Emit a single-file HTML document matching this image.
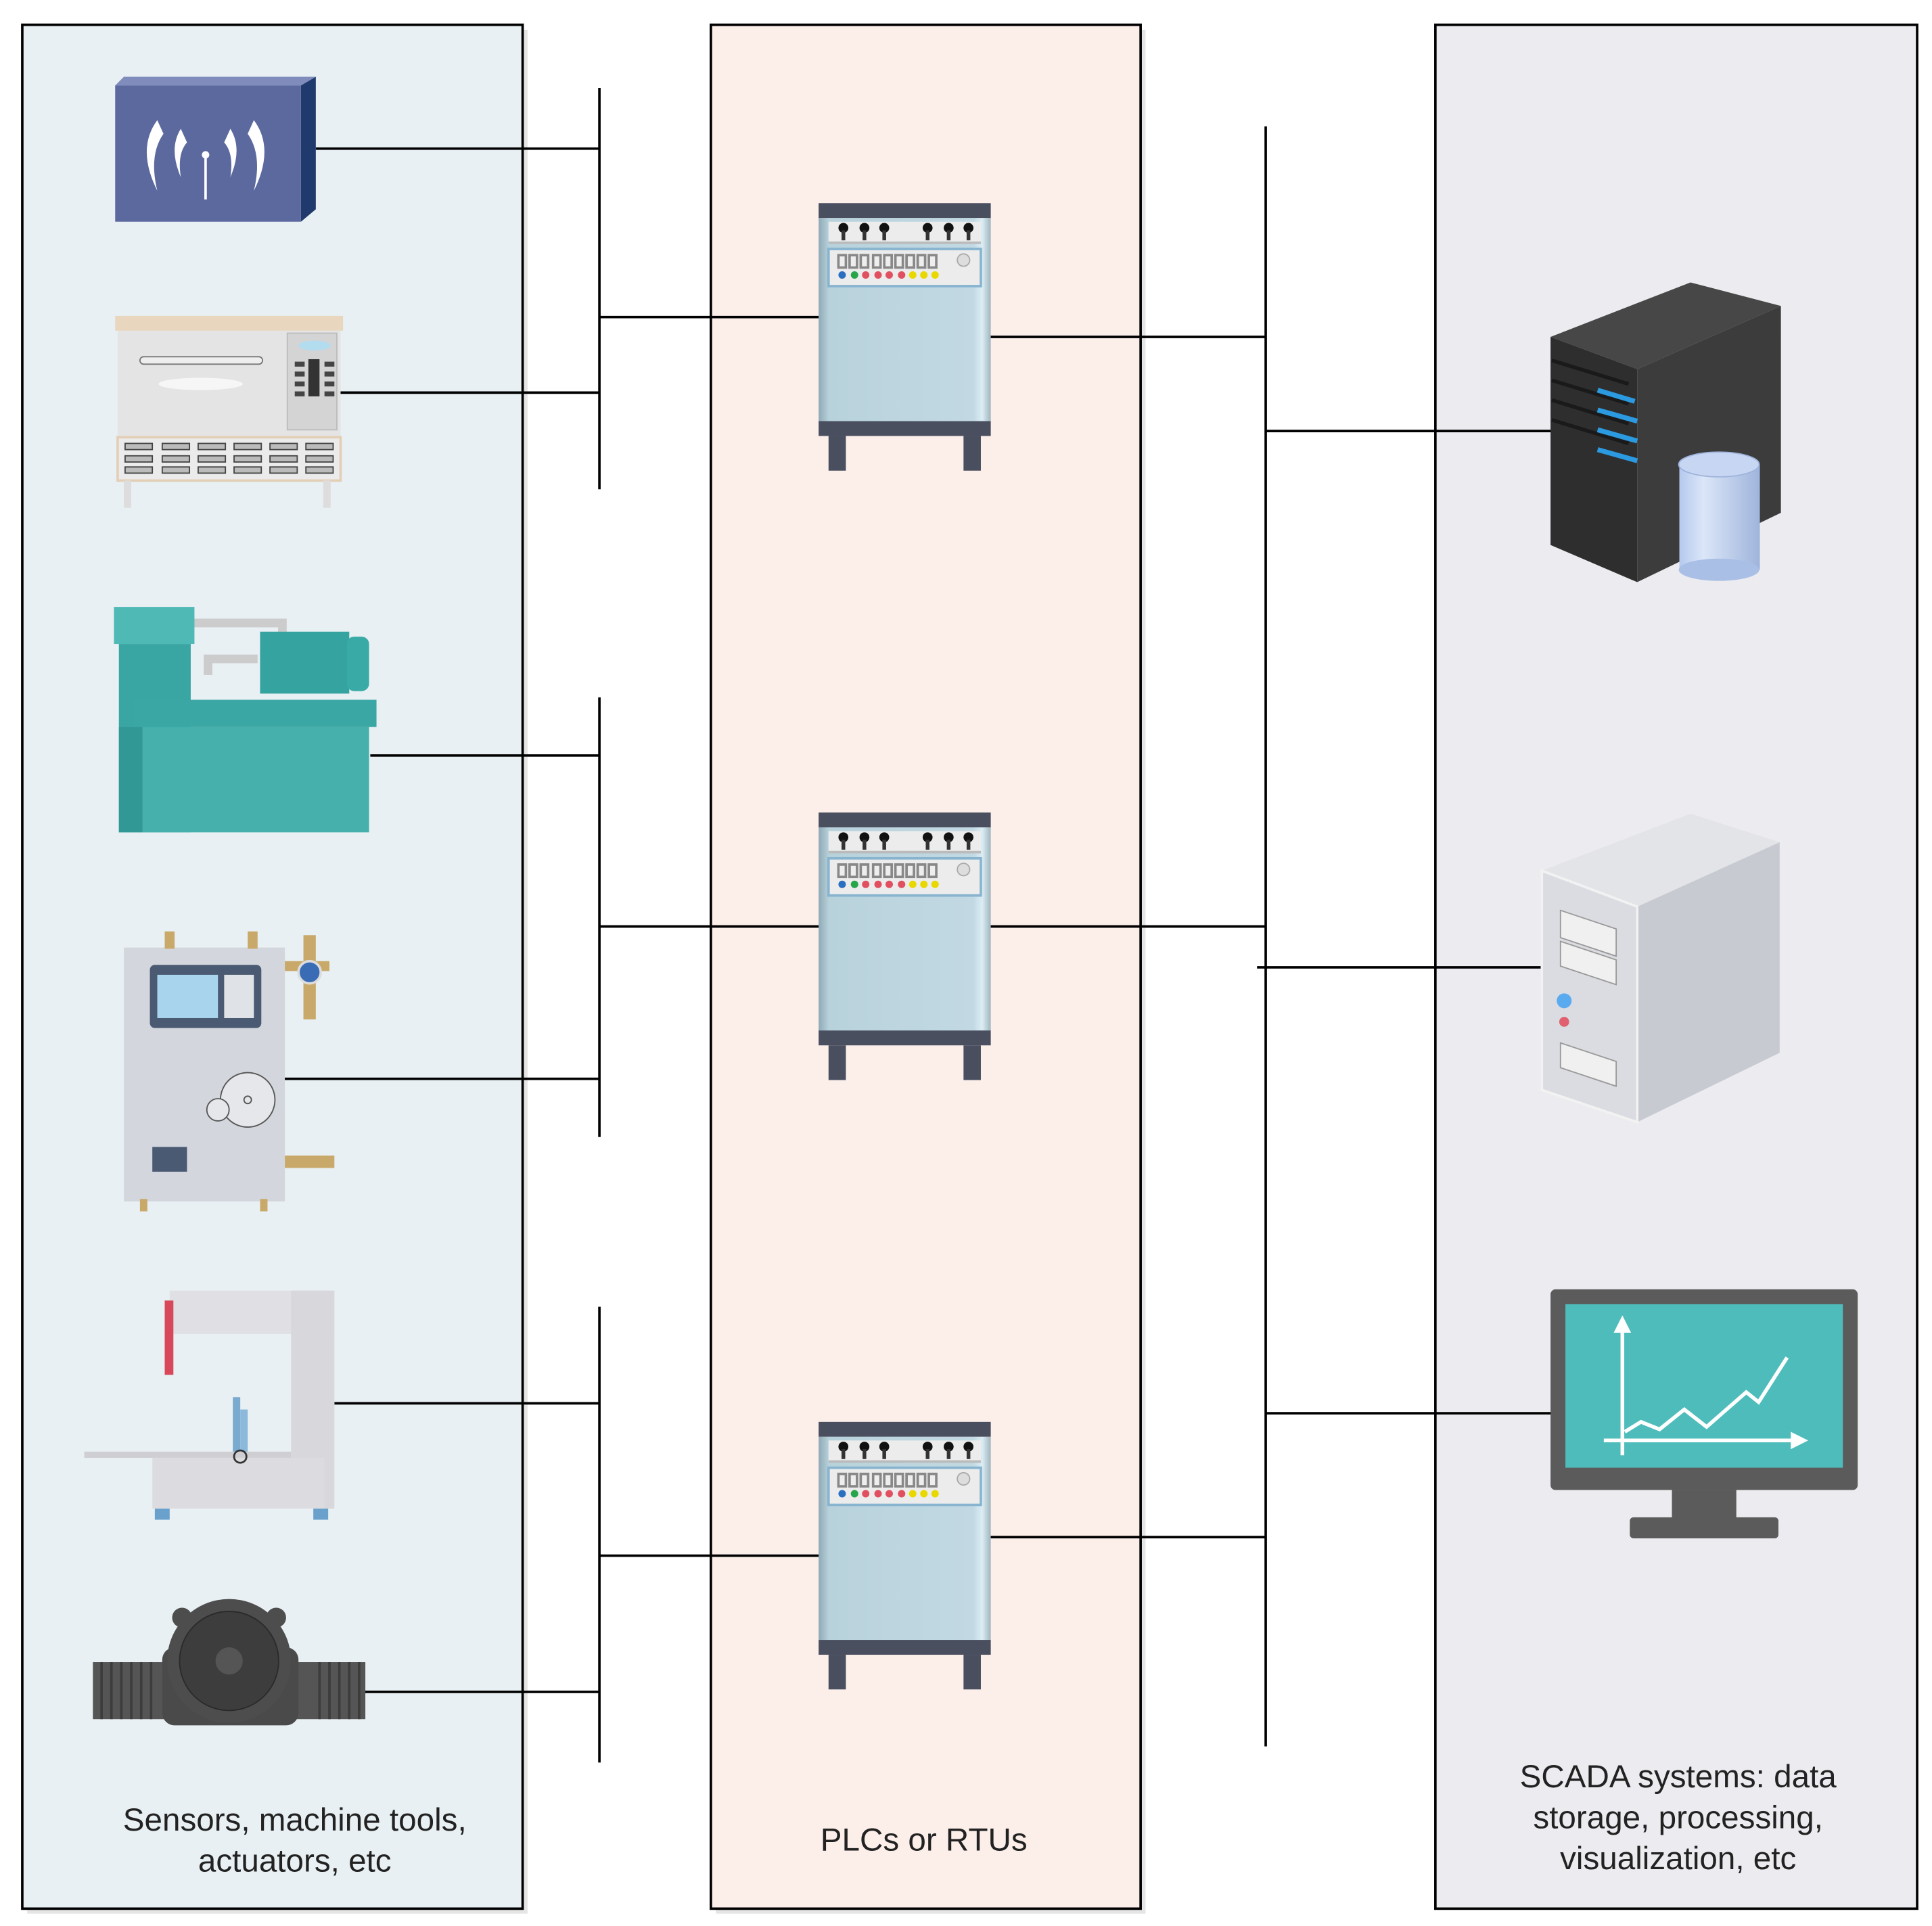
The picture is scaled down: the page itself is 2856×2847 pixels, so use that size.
<!DOCTYPE html>
<html><head><meta charset="utf-8"><style>
html,body{margin:0;padding:0;background:#fff;}
svg{display:block;}
text{font-family:"Liberation Sans",sans-serif;fill:#222;}
</style></head><body>
<svg width="2856" height="2847" viewBox="0 0 1560 1555" preserveAspectRatio="none" xmlns="http://www.w3.org/2000/svg">
<defs>
<linearGradient id="plcb" x1="0" x2="1"><stop offset="0" stop-color="#8fa9b5"/><stop offset="0.06" stop-color="#b8d2dc"/><stop offset="0.9" stop-color="#c2d9e3"/><stop offset="0.95" stop-color="#dcedf4"/><stop offset="1" stop-color="#9fb5bf"/></linearGradient>
<linearGradient id="cyl" x1="0" x2="1"><stop offset="0" stop-color="#b5c9ee"/><stop offset="0.3" stop-color="#dbe6f8"/><stop offset="1" stop-color="#9fb4dc"/></linearGradient>
<g id="plc">
<rect x="0" y="0" width="139" height="12" fill="#4a4f60"/>
<rect x="0" y="12" width="139" height="165" fill="url(#plcb)"/>
<rect x="8" y="15" width="123" height="16" fill="#ececec"/>
<rect x="8" y="31" width="123" height="2" fill="#bbb"/>
<g fill="#111"><circle cx="20" cy="20" r="4"/><circle cx="37" cy="20" r="4"/><circle cx="53" cy="20" r="4"/><circle cx="88" cy="20" r="4"/><circle cx="105" cy="20" r="4"/><circle cx="121" cy="20" r="4"/></g>
<g stroke="#333" stroke-width="3"><path d="M20 22v8M37 22v8M53 22v8M88 22v8M105 22v8M121 22v8"/></g>
<rect x="8" y="37" width="123" height="30" fill="#ececec" stroke="#88b4cf" stroke-width="2"/>
<g fill="#eee" stroke="#888" stroke-width="2"><rect x="16" y="42" width="6" height="10"/><rect x="25" y="42" width="6" height="10"/><rect x="34" y="42" width="6" height="10"/><rect x="44" y="42" width="6" height="10"/><rect x="53" y="42" width="6" height="10"/><rect x="62" y="42" width="6" height="10"/><rect x="71" y="42" width="6" height="10"/><rect x="80" y="42" width="6" height="10"/><rect x="89" y="42" width="6" height="10"/></g>
<circle cx="117" cy="46" r="5" fill="#ddd" stroke="#aaa"/>
<circle cx="19" cy="58" r="3" fill="#2a6fc0"/><circle cx="29" cy="58" r="3" fill="#27a54a"/><circle cx="38" cy="58" r="3" fill="#e05060"/><circle cx="48" cy="58" r="3" fill="#e05060"/><circle cx="57" cy="58" r="3" fill="#e05060"/><circle cx="67" cy="58" r="3" fill="#e05060"/><circle cx="76" cy="58" r="3" fill="#e8d800"/><circle cx="85" cy="58" r="3" fill="#e8d800"/><circle cx="94" cy="58" r="3" fill="#e8d800"/>
<rect x="0" y="176" width="139" height="12" fill="#4a4f60"/>
<rect x="8" y="188" width="14" height="28" fill="#4a4f60"/>
<rect x="117" y="188" width="14" height="28" fill="#4a4f60"/>
</g>
</defs>

<!-- panels -->
<rect x="22" y="24" width="404" height="1521" fill="#e5e5e5"/>
<rect x="18" y="20" width="404" height="1521" fill="#e8f0f3" stroke="#000" stroke-width="2"/>
<rect x="578" y="24" width="347" height="1521" fill="#e5e5e5"/>
<rect x="574" y="20" width="347" height="1521" fill="#fcefea" stroke="#000" stroke-width="2"/>
<rect x="1159" y="20" width="389" height="1521" fill="#ecebef" stroke="#000" stroke-width="2"/>

<!-- connectors -->
<g stroke="#000" stroke-width="2" fill="none">
<path d="M484 71V395M255 120H484M272 317H484M484 256H668"/>
<path d="M484 563V918M299 610H484M484 748H668M222 871H484"/>
<path d="M484 1055V1423M270 1133H484M484 1256H668M285 1366H484"/>
<path d="M1022 102V1410M792 272H1022M1022 348H1253M790 748H1022M1015 781H1246M1022 1141H1253M790 1241H1022"/>
</g>

<!-- PLCs -->
<use href="#plc" x="661" y="164"/>
<use href="#plc" x="661" y="656"/>
<use href="#plc" x="661" y="1148"/>

<!-- wireless -->
<polygon points="93,69 100,62 255,62 243,69" fill="#7f8cbc"/>
<polygon points="243,69 255,62 255,169 243,179" fill="#213a6e"/>
<rect x="93" y="69" width="150" height="110" fill="#5c699e"/>
<g fill="#fff">
<path d="M127 97 Q110 120 127 154 Q120 125 132 108Z"/>
<path d="M146 104 Q136 120 146 143 Q143 124 151 115Z"/>
<path d="M205 97 Q222 120 205 154 Q212 125 200 108Z"/>
<path d="M186 104 Q196 120 186 143 Q189 124 181 115Z"/>
<circle cx="166" cy="125" r="3"/><rect x="165" y="125" width="2" height="36"/>
</g>

<!-- oven -->
<rect x="93" y="255" width="184" height="12" fill="#e8d6be"/>
<rect x="95" y="267" width="180" height="86" fill="#e4e4e4"/>
<rect x="232" y="269" width="40" height="78" fill="#d4d4d4" stroke="#bbb"/>
<ellipse cx="254" cy="279" rx="13" ry="4" fill="#b3dcef"/>
<rect x="249" y="290" width="9" height="30" fill="#333"/>
<g fill="#444"><rect x="238" y="292" width="8" height="4"/><rect x="238" y="300" width="8" height="4"/><rect x="238" y="308" width="8" height="4"/><rect x="238" y="316" width="8" height="4"/><rect x="262" y="292" width="8" height="4"/><rect x="262" y="300" width="8" height="4"/><rect x="262" y="308" width="8" height="4"/><rect x="262" y="316" width="8" height="4"/></g>
<rect x="113" y="288" width="99" height="6" rx="3" fill="#eee" stroke="#777"/>
<ellipse cx="162" cy="310" rx="34" ry="5" fill="#f6f6f6"/>
<rect x="95" y="353" width="180" height="35" fill="#ebebeb" stroke="#e3cfb6" stroke-width="2"/>
<g fill="#bbb" stroke="#444" stroke-width="1">
<rect x="101" y="358" width="22" height="5"/><rect x="131" y="358" width="22" height="5"/><rect x="160" y="358" width="22" height="5"/><rect x="189" y="358" width="22" height="5"/><rect x="218" y="358" width="22" height="5"/><rect x="247" y="358" width="22" height="5"/>
<rect x="101" y="368" width="22" height="5"/><rect x="131" y="368" width="22" height="5"/><rect x="160" y="368" width="22" height="5"/><rect x="189" y="368" width="22" height="5"/><rect x="218" y="368" width="22" height="5"/><rect x="247" y="368" width="22" height="5"/>
<rect x="101" y="377" width="22" height="5"/><rect x="131" y="377" width="22" height="5"/><rect x="160" y="377" width="22" height="5"/><rect x="189" y="377" width="22" height="5"/><rect x="218" y="377" width="22" height="5"/><rect x="247" y="377" width="22" height="5"/>
</g>
<rect x="100" y="388" width="6" height="22" fill="#ddd"/><rect x="261" y="388" width="6" height="22" fill="#ddd"/>

<!-- teal machine -->
<path d="M150 503 H228 V512 M168 545 V532 H208" stroke="#ccc" stroke-width="7" fill="none"/>
<rect x="92" y="490" width="65" height="30" fill="#4fb9b5"/>
<rect x="96" y="520" width="58" height="152" fill="#3aa6a3"/>
<rect x="210" y="510" width="72" height="50" fill="#35a3a0"/>
<rect x="280" y="514" width="18" height="44" rx="6" fill="#3aaaa6"/>
<rect x="108" y="565" width="196" height="22" fill="#3ba7a4"/>
<rect x="115" y="587" width="183" height="85" fill="#46b0ad"/>
<rect x="96" y="587" width="19" height="85" fill="#329895"/>

<!-- boiler -->
<rect x="100" y="765" width="130" height="205" fill="#d3d7dd"/>
<rect x="121" y="779" width="90" height="51" rx="4" fill="#4a5a72"/>
<rect x="127" y="787" width="49" height="35" fill="#a8d4ee"/>
<rect x="181" y="787" width="24" height="35" fill="#dfe3e8"/>
<rect x="133" y="752" width="8" height="14" fill="#c9a96a"/><rect x="200" y="752" width="8" height="14" fill="#c9a96a"/>
<rect x="230" y="776" width="36" height="8" fill="#c9a96a"/>
<rect x="245" y="755" width="10" height="68" fill="#c9a96a"/>
<circle cx="250" cy="785" r="9" fill="#3a6cb5" stroke="#ddd" stroke-width="2"/>
<circle cx="200" cy="888" r="22" fill="#e5e7ea" stroke="#555"/>
<circle cx="176" cy="896" r="9" fill="#e5e7ea" stroke="#555"/>
<circle cx="200" cy="888" r="3" fill="none" stroke="#555"/>
<rect x="123" y="926" width="28" height="20" fill="#4a5a72"/>
<rect x="230" y="933" width="40" height="10" fill="#c9a96a"/>
<rect x="113" y="968" width="6" height="10" fill="#c9a96a"/><rect x="210" y="968" width="6" height="10" fill="#c9a96a"/>

<!-- band saw -->
<rect x="137" y="1042" width="133" height="35" fill="#e0e0e4"/>
<rect x="235" y="1042" width="35" height="176" fill="#d8d8dc"/>
<rect x="133" y="1050" width="7" height="60" fill="#d8485a"/>
<rect x="188" y="1128" width="6" height="46" fill="#7aaad0"/><rect x="194" y="1138" width="6" height="36" fill="#8cb8dc"/>
<rect x="68" y="1172" width="167" height="5" fill="#cfcfd3"/>
<rect x="123" y="1177" width="139" height="41" fill="#dcdce0"/>
<circle cx="194" cy="1176" r="5" fill="none" stroke="#333" stroke-width="1.5"/>
<rect x="125" y="1218" width="12" height="9" fill="#6aa0cc"/><rect x="253" y="1218" width="12" height="9" fill="#6aa0cc"/>

<!-- flow meter -->
<rect x="75" y="1342" width="220" height="46" fill="#555"/>
<g stroke="#3c3c3c" stroke-width="2"><path d="M82 1342v46M90 1342v46M98 1342v46M106 1342v46M114 1342v46M122 1342v46M258 1342v46M266 1342v46M274 1342v46M282 1342v46M290 1342v46"/></g>
<rect x="131" y="1330" width="110" height="63" rx="10" fill="#4a4a4a"/>
<circle cx="185" cy="1341" r="50" fill="#4d4d4d"/>
<circle cx="185" cy="1341" r="40" fill="#3d3d3d" stroke="#2a2a2a"/>
<circle cx="185" cy="1341" r="11" fill="#555"/>
<circle cx="147" cy="1306" r="8" fill="#4d4d4d"/><circle cx="223" cy="1306" r="8" fill="#4d4d4d"/>

<!-- dark server -->
<polygon points="1252,272 1365,228 1438,247 1322,298" fill="#474747"/>
<polygon points="1322,298 1438,247 1438,414 1322,470" fill="#3c3c3c"/>
<polygon points="1252,272 1322,298 1322,470 1252,440" fill="#2e2e2e"/>
<g stroke="#1a1a1a" stroke-width="3"><path d="M1253 291L1315 310M1253 307L1315 326M1253 323L1315 342M1253 339L1315 358"/></g>
<g stroke="#2b9ae0" stroke-width="4"><path d="M1290 315L1320 324M1290 331L1322 340M1290 347L1322 356M1290 363L1322 372"/></g>
<rect x="1356" y="375" width="65" height="85" fill="url(#cyl)"/>
<ellipse cx="1388" cy="460" rx="32.5" ry="9" fill="#a9bfe6"/>
<ellipse cx="1388" cy="375" rx="32.5" ry="10" fill="#c7d6f2" stroke="#9fb4dc"/>

<!-- pc tower -->
<polygon points="1245,703 1365,657 1437,680 1322,732" fill="#e3e4e8"/>
<polygon points="1322,732 1437,680 1437,850 1322,906" fill="#c8cad1"/>
<polygon points="1245,703 1322,732 1322,906 1245,880" fill="#dadce1" stroke="#f2f2f2" stroke-width="2"/>
<g fill="#f0f0f0" stroke="#999"><polygon points="1260,735 1305,750 1305,772 1260,757"/><polygon points="1260,760 1305,775 1305,795 1260,780"/><polygon points="1260,842 1305,857 1305,877 1260,862"/></g>
<ellipse cx="1263" cy="808" rx="6" ry="6" fill="#5aaaf0"/>
<ellipse cx="1263" cy="825" rx="4" ry="4" fill="#e06070"/>

<!-- monitor -->
<rect x="1252" y="1041" width="248" height="162" rx="4" fill="#5b5b5b"/>
<rect x="1264" y="1053" width="224" height="132" fill="#4fbcbc"/>
<rect x="1350" y="1203" width="52" height="24" fill="#5b5b5b"/>
<rect x="1316" y="1225" width="120" height="17" rx="3" fill="#5b5b5b"/>
<g stroke="#fff" stroke-width="3" fill="none">
<path d="M1310 1070V1175M1295 1163H1450"/>
<path d="M1312 1156L1325 1148L1340 1154L1360 1138L1378 1152L1410 1124L1420 1132L1443 1096"/>
</g>
<polygon points="1310,1062 1303,1076 1317,1076" fill="#fff"/>
<polygon points="1460,1163 1446,1156 1446,1170" fill="#fff"/>

<!-- labels -->
<text x="238" y="1478" font-size="26" text-anchor="middle">Sensors, machine tools,</text>
<text x="238" y="1511" font-size="26" text-anchor="middle">actuators, etc</text>
<text x="746" y="1494" font-size="26" text-anchor="middle">PLCs or RTUs</text>
<text x="1355" y="1443" font-size="26" text-anchor="middle">SCADA systems: data</text>
<text x="1355" y="1476" font-size="26" text-anchor="middle">storage, processing,</text>
<text x="1355" y="1509" font-size="26" text-anchor="middle">visualization, etc</text>
</svg>
</body></html>
